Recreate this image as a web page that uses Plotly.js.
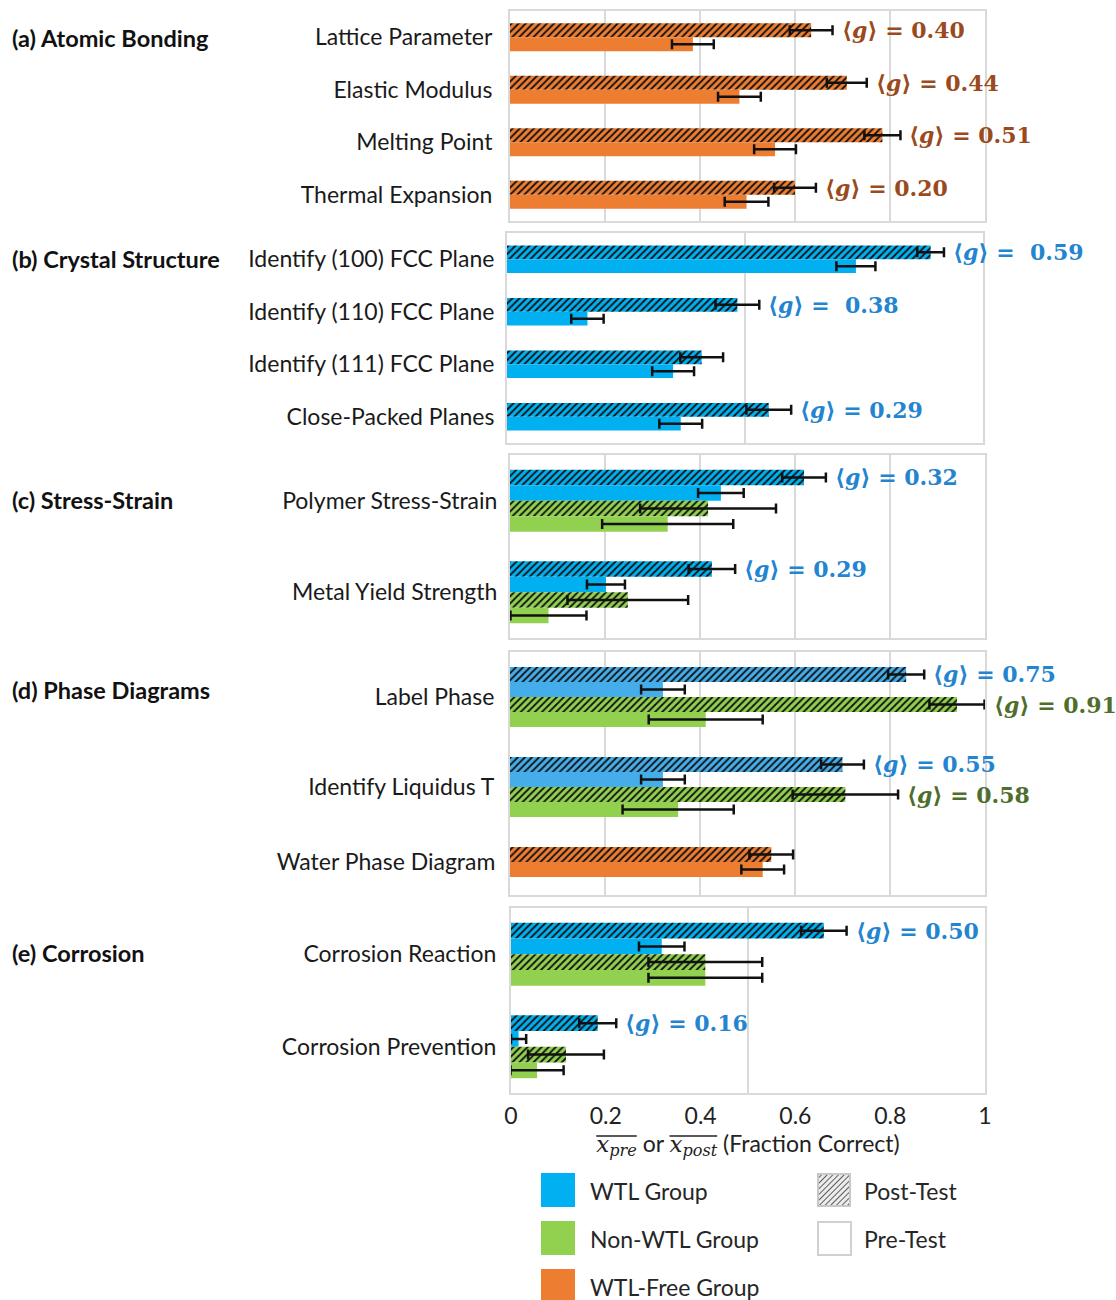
<!DOCTYPE html>
<html>
<head>
<meta charset="utf-8">
<script src="https://cdn.plot.ly/plotly-3.0.1.min.js"></script>
<style>html,body{margin:0;padding:0;background:#fff;}#chart{width:1116px;height:1300px;}</style>
</head>
<body>
<div id="chart"></div>
<script>
// ---------------- DATA ----------------
// (a) Atomic Bonding — WTL-Free group
const catsA = ['Lattice Parameter', 'Elastic Modulus', 'Melting Point', 'Thermal Expansion'];
const freePostA = [0.634, 0.709, 0.784, 0.600];
const freePostErrA = [0.045, 0.042, 0.038, 0.044];
const freePreA = [0.385, 0.483, 0.558, 0.498];
const freePreErrA = [0.044, 0.045, 0.044, 0.046];
const gainA = ['0.40', '0.44', '0.51', '0.20'];

// (b) Crystal Structure — WTL group
const catsB = ['Identify (100) FCC Plane', 'Identify (110) FCC Plane', 'Identify (111) FCC Plane', 'Close-Packed Planes'];
const wtlPostB = [0.890, 0.484, 0.409, 0.550];
const wtlPostErrB = [0.028, 0.046, 0.045, 0.047];
const wtlPreB = [0.733, 0.169, 0.349, 0.365];
const wtlPreErrB = [0.041, 0.034, 0.044, 0.045];
const gainB = ['\u00a00.59', '\u00a00.38', '', '0.29'];

// (c) Stress-Strain — WTL and Non-WTL groups
const catsC = ['Polymer Stress-Strain', 'Metal Yield Strength'];
const wtlPostC = [0.619, 0.425];
const wtlPostErrC = [0.046, 0.049];
const wtlPreC = [0.444, 0.202];
const wtlPreErrC = [0.048, 0.040];
const nwPostC = [0.417, 0.248];
const nwPostErrC = [0.143, 0.127];
const nwPreC = [0.332, 0.081];
const nwPreErrC = [0.138, 0.080];
const gainWtlC = ['0.32', '0.29'];

// (d) Phase Diagrams
const catsD = ['Label Phase', 'Identify Liquidus T'];
const wtlPostD = [0.834, 0.700];
const wtlPostErrD = [0.038, 0.045];
const wtlPreD = [0.322, 0.322];
const wtlPreErrD = [0.046, 0.046];
const nwPostD = [0.941, 0.706];
const nwPostErrD = [0.058, 0.111];
const nwPreD = [0.412, 0.354];
const nwPreErrD = [0.120, 0.117];
const gainWtlD = ['0.75', '0.55'];
const gainNwD = ['0.91', '0.58'];
const catsW = ['Water Phase Diagram'];
const freePostW = [0.550];
const freePostErrW = [0.046];
const freePreW = [0.532];
const freePreErrW = [0.045];

// (e) Corrosion
const catsE = ['Corrosion Reaction', 'Corrosion Prevention'];
const wtlPostE = [0.660, 0.183];
const wtlPostErrE = [0.048, 0.039];
const wtlPreE = [0.318, 0.016];
const wtlPreErrE = [0.048, 0.016];
const nwPostE = [0.410, 0.116];
const nwPostErrE = [0.120, 0.080];
const nwPreE = [0.410, 0.055];
const nwPreErrE = [0.120, 0.056];
const gainWtlE = ['0.50', '0.16'];

const sectionLabels = ['(a) Atomic Bonding', '(b) Crystal Structure', '(c) Stress-Strain', '(d) Phase Diagrams', '(e) Corrosion'];
const legendGroups = ['WTL Group', 'Non-WTL Group', 'WTL-Free Group'];
const legendTests = ['Post-Test', 'Pre-Test'];
const xTicks = [0, 0.2, 0.4, 0.6, 0.8, 1];
const xTickText = ['0', '0.2', '0.4', '0.6', '0.8', '1'];

// ---------------- STYLE ----------------
const W = 1116, H = 1300;
const fx = p => p / W;
const fy = p => 1 - p / H;
const ORANGE = '#ed7d31', BLUE = '#00b0f0', BLUE_D = '#45aeea', GREEN = '#92d050';
const T_BROWN = '#9a4a1c', T_BLUE = '#2384d0', T_GREEN = '#4f6e2c';
const GRID = '#d9d9d9';
const SANS = 'Lato, "Open Sans", sans-serif';
const SERIF = '"DejaVu Serif", serif';
const LABEL_SIZE = 23;

const traces = [];
function addBar(xv, ev, cats, color, hatched, xa, ya, offset, width) {
  const marker = { color: color, line: { width: 0 } };
  if (hatched) {
    marker.pattern = { shape: '/', fgcolor: '#111', bgcolor: color, size: 5, solidity: 0.36, fillmode: 'replace' };
  }
  traces.push({
    type: 'bar', orientation: 'h', x: xv, y: cats, xaxis: xa, yaxis: ya,
    offset: offset, width: width, marker: marker,
    error_x: { type: 'data', array: ev, visible: true, color: '#111', thickness: 2.5, width: 5 },
    hoverinfo: 'skip', showlegend: false
  });
}

// panel a
const wA = 0.267;
addBar(freePostA, freePostErrA, catsA, ORANGE, true, 'x', 'y', -wA, wA);
addBar(freePreA, freePreErrA, catsA, ORANGE, false, 'x', 'y', 0, wA);
// panel b
const wB = 0.262;
addBar(wtlPostB, wtlPostErrB, catsB, BLUE, true, 'x2', 'y2', -wB, wB);
addBar(wtlPreB, wtlPreErrB, catsB, BLUE, false, 'x2', 'y2', 0, wB);
// panel c
const wC = 0.17;
addBar(wtlPostC, wtlPostErrC, catsC, BLUE, true, 'x3', 'y3', -2 * wC, wC);
addBar(wtlPreC, wtlPreErrC, catsC, BLUE, false, 'x3', 'y3', -wC, wC);
addBar(nwPostC, nwPostErrC, catsC, GREEN, true, 'x3', 'y3', 0, wC);
addBar(nwPreC, nwPreErrC, catsC, GREEN, false, 'x3', 'y3', wC, wC);
// panel d
const wD = 0.167;
addBar(wtlPostD, wtlPostErrD, catsD, BLUE_D, true, 'x4', 'y4', -2 * wD, wD);
addBar(wtlPreD, wtlPreErrD, catsD, BLUE_D, false, 'x4', 'y4', -wD, wD);
addBar(nwPostD, nwPostErrD, catsD, GREEN, true, 'x4', 'y4', 0, wD);
addBar(nwPreD, nwPreErrD, catsD, GREEN, false, 'x4', 'y4', wD, wD);
addBar(freePostW, freePostErrW, catsW, ORANGE, true, 'x4', 'y6', -wD, wD);
addBar(freePreW, freePreErrW, catsW, ORANGE, false, 'x4', 'y6', 0, wD);
// panel e
const wE = 0.17;
addBar(wtlPostE, wtlPostErrE, catsE, BLUE, true, 'x5', 'y5', -2 * wE, wE);
addBar(wtlPreE, wtlPreErrE, catsE, BLUE, false, 'x5', 'y5', -wE, wE);
addBar(nwPostE, nwPostErrE, catsE, GREEN, true, 'x5', 'y5', 0, wE);
addBar(nwPreE, nwPreErrE, catsE, GREEN, false, 'x5', 'y5', wE, wE);

// ---------------- AXES ----------------
function xAxis(x0, x1, yanchor, dtick, opts) {
  return Object.assign({
    domain: [fx(x0), fx(x1)], anchor: yanchor, range: [0, 1], fixedrange: true,
    dtick: dtick, showgrid: true, gridcolor: GRID, gridwidth: 1.5,
    showticklabels: false, ticks: '', zeroline: false,
    showline: true, mirror: true, linecolor: GRID, linewidth: 2
  }, opts || {});
}
function yAxis(y0, y1, xanchor, cats, rng, tl, opts) {
  return Object.assign({
    domain: [fy(y1), fy(y0)], anchor: xanchor, type: 'category',
    categoryorder: 'array', categoryarray: cats, range: rng, fixedrange: true,
    showgrid: false, zeroline: false, showline: true, mirror: true, linecolor: GRID, linewidth: 2,
    ticks: 'outside', ticklen: tl, tickcolor: 'rgba(0,0,0,0)',
    tickfont: { family: SANS, size: LABEL_SIZE, color: '#1a1a1a' }
  }, opts || {});
}

const layout = {
  width: W, height: H, autosize: false,
  margin: { l: 0, r: 0, t: 0, b: 0 },
  paper_bgcolor: '#fff', plot_bgcolor: '#fff',
  barmode: 'overlay', showlegend: false,
  font: { family: SANS, color: '#1a1a1a' },
  xaxis: xAxis(510, 985, 'y', 0.2),
  yaxis: yAxis(11, 221, 'x', catsA, [3.5, -0.5], 11),
  xaxis2: xAxis(507, 983, 'y2', 0.5),
  yaxis2: yAxis(233, 443, 'x2', catsB, [3.5, -0.5], 6),
  xaxis3: xAxis(510, 985, 'y3', 0.2),
  yaxis3: yAxis(455, 638, 'x3', catsC, [1.5, -0.5], 6),
  xaxis4: xAxis(510, 985, 'y4', 0.2),
  yaxis4: yAxis(652, 895, 'x4', catsD, [2.2, -0.5], 9),
  yaxis6: yAxis(652, 895, 'x4', catsW, [0.367, -2.333], 9, { overlaying: 'y4', side: 'left', showline: false }),
  xaxis5: xAxis(511, 985, 'y5', 0.2, {
    showgrid: false, showticklabels: true, tickmode: 'array', tickvals: xTicks, ticktext: xTickText,
    ticks: 'outside', ticklen: 1, tickcolor: 'rgba(0,0,0,0)',
    tickfont: { family: SANS, size: 23, color: '#222' },
    minor: { dtick: 0.5, showgrid: true, gridcolor: GRID, gridwidth: 1.5, ticks: '' },
    title: {
      text: '<span style="font-family:\'DejaVu Serif\'"><i>x</i></span><sub><span style="font-family:\'DejaVu Serif\'"><i>pre</i></span></sub> or <span style="font-family:\'DejaVu Serif\'"><i>x</i></span><sub><span style="font-family:\'DejaVu Serif\'"><i>post</i></span></sub> (Fraction Correct)',
      font: { family: SANS, size: 23, color: '#222' }, standoff: 2
    }
  }),
  yaxis5: yAxis(908, 1093, 'x5', catsE, [1.5, -0.5], 8),
  annotations: [], shapes: [], images: []
};

// gain annotations
function gainNotes(vals, errs, gains, xa, ya, offset, width, color) {
  gains.forEach((g, i) => {
    if (!g) return;
    layout.annotations.push({
      xref: xa, yref: ya, x: vals[i] + errs[i], y: i + offset + width / 2,
      xanchor: 'left', yanchor: 'middle', xshift: 7, showarrow: false,
      text: '<b>\u27e8<i>g</i>\u27e9 = ' + g + '</b>',
      font: { family: SERIF, size: 22, color: color }
    });
  });
}
gainNotes(freePostA, freePostErrA, gainA, 'x', 'y', -wA, wA, T_BROWN);
gainNotes(wtlPostB, wtlPostErrB, gainB, 'x2', 'y2', -wB, wB, T_BLUE);
gainNotes(wtlPostC, wtlPostErrC, gainWtlC, 'x3', 'y3', -2 * wC, wC, T_BLUE);
gainNotes(wtlPostD, wtlPostErrD, gainWtlD, 'x4', 'y4', -2 * wD, wD, T_BLUE);
gainNotes(nwPostD, nwPostErrD, gainNwD, 'x4', 'y4', 0, wD, T_GREEN);
gainNotes(wtlPostE, wtlPostErrE, gainWtlE, 'x5', 'y5', -2 * wE, wE, T_BLUE);

// section labels
const sectionY = [38, 259, 500, 690, 953];
sectionLabels.forEach((s, i) => {
  layout.annotations.push({
    xref: 'paper', yref: 'paper', x: fx(10), y: fy(sectionY[i]), xanchor: 'left', yanchor: 'middle',
    showarrow: false, text: '<b>' + s + '</b>', font: { family: SANS, size: 23.5, color: '#111' }
  });
});

// legend (custom)
const legColors = [BLUE, GREEN, ORANGE];
const legRowY = [1173, 1221, 1269];
legendGroups.forEach((name, i) => {
  layout.shapes.push({
    type: 'rect', xref: 'paper', yref: 'paper',
    x0: fx(541), x1: fx(575), y0: fy(legRowY[i] + 34), y1: fy(legRowY[i]),
    fillcolor: legColors[i], line: { width: 0 }
  });
  layout.annotations.push({
    xref: 'paper', yref: 'paper', x: fx(588), y: fy(legRowY[i] + 18), xanchor: 'left', yanchor: 'middle',
    showarrow: false, text: name, font: { family: SANS, size: 23, color: '#262626' }
  });
});
const hatchSvg = "<svg xmlns='http://www.w3.org/2000/svg' width='34' height='34'>" +
  "<defs><pattern id='p' width='4' height='4' patternUnits='userSpaceOnUse' patternTransform='rotate(45)'>" +
  "<line x1='0' y1='0' x2='0' y2='4' stroke='#222' stroke-width='1.4'/></pattern></defs>" +
  "<rect x='1' y='1' width='32' height='32' fill='#ececec'/>" +
  "<rect x='1' y='1' width='32' height='32' fill='url(#p)' stroke='#c8c8c8' stroke-width='2'/></svg>";
layout.images.push({
  source: 'data:image/svg+xml;charset=utf-8,' + encodeURIComponent(hatchSvg),
  xref: 'paper', yref: 'paper', x: fx(817), y: fy(1173), sizex: 34 / W, sizey: 34 / H,
  xanchor: 'left', yanchor: 'top', sizing: 'stretch', layer: 'above'
});
layout.shapes.push({
  type: 'rect', xref: 'paper', yref: 'paper',
  x0: fx(818), x1: fx(851), y0: fy(1255), y1: fy(1222),
  fillcolor: '#ffffff', line: { width: 2, color: '#d0d0d0' }
});
legendTests.forEach((name, i) => {
  layout.annotations.push({
    xref: 'paper', yref: 'paper', x: fx(862), y: fy(legRowY[i] + 18), xanchor: 'left', yanchor: 'middle',
    showarrow: false, text: name, font: { family: SANS, size: 23, color: '#262626' }
  });
});

// overline the mean symbols in the x-axis title (x̄_pre, x̄_post)
function addOverlines() {
  const t = document.querySelector('.infolayer .g-x5title text');
  if (!t) return;
  const s = t.textContent;
  const NS = 'http://www.w3.org/2000/svg';
  const pairs = [];
  const iPre = s.indexOf('pre');
  const iPost = s.indexOf('post');
  const x1 = s.indexOf('x');
  const x2 = s.indexOf('x', iPre);
  if (x1 >= 0 && iPre > 0) pairs.push([x1, iPre + 2]);
  if (x2 >= 0 && iPost > 0) pairs.push([x2, iPost + 3]);
  const g = document.createElementNS(NS, 'g');
  const tr = t.getAttribute('transform');
  if (tr) g.setAttribute('transform', tr);
  pairs.forEach(([a, b]) => {
    try {
      const ea = t.getExtentOfChar(a), eb = t.getExtentOfChar(b);
      const base = t.getStartPositionOfChar(a).y;
      const y = base - 0.68 * 23;
      const ln = document.createElementNS(NS, 'line');
      ln.setAttribute('x1', ea.x);
      ln.setAttribute('x2', eb.x + eb.width);
      ln.setAttribute('y1', y);
      ln.setAttribute('y2', y);
      ln.setAttribute('stroke', '#222');
      ln.setAttribute('stroke-width', '1.4');
      g.appendChild(ln);
    } catch (e) {}
  });
  t.parentNode.appendChild(g);
}

Plotly.newPlot('chart', traces, layout, { staticPlot: true, displayModeBar: false }).then(addOverlines);
</script>
</body>
</html>
